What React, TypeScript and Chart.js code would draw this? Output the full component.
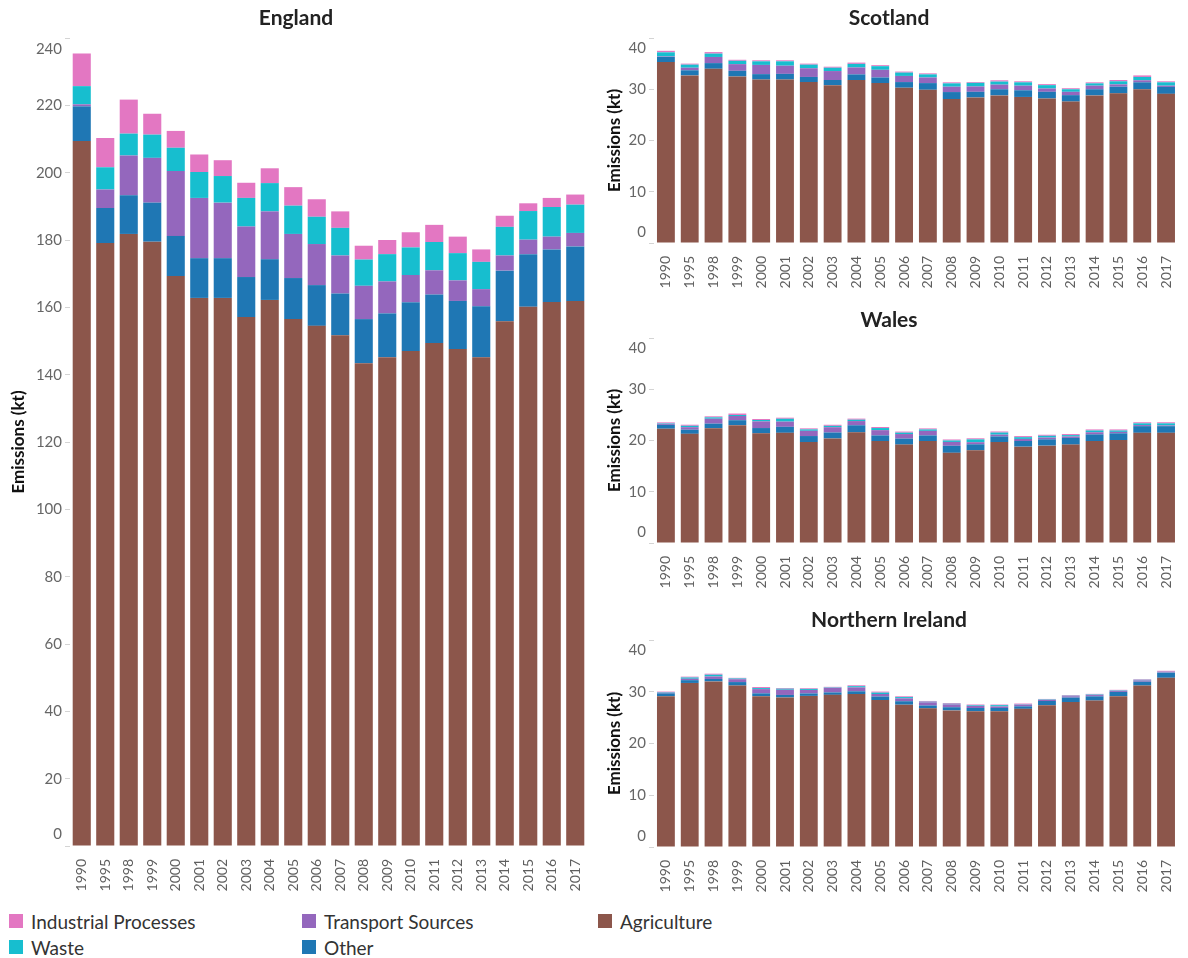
import React, { useEffect, useRef } from "react";
import { Chart, registerables } from "chart.js";

Chart.register(...registerables);

const FONT = "Lato, 'Open Sans', sans-serif";

const years = ["1990", "1995", "1998", "1999", "2000", "2001", "2002", "2003", "2004", "2005", "2006", "2007", "2008", "2009", "2010", "2011", "2012", "2013", "2014", "2015", "2016", "2017"];

const seriesNames = ["Agriculture", "Other", "Transport Sources", "Waste", "Industrial Processes"];
const seriesColors = ["#8c564b", "#1f77b4", "#9467bd", "#17becf", "#e377c2"];

// England
const englandAgriculture = [209.4, 179.1, 181.8, 179.5, 169.3, 162.8, 162.8, 157.1, 162.2, 156.5, 154.5, 151.7, 143.4, 145.2, 147.0, 149.4, 147.6, 145.2, 155.9, 160.2, 161.6, 161.9];
const englandOther = [10.3, 10.4, 11.5, 11.6, 11.9, 11.8, 11.8, 11.9, 12.1, 12.2, 12.1, 12.4, 13.1, 13.0, 14.5, 14.4, 14.3, 15.1, 15.0, 15.6, 15.6, 16.2];
const englandTransport = [0.6, 5.5, 11.8, 13.3, 19.3, 17.9, 16.5, 15.0, 14.2, 13.1, 12.2, 11.3, 9.9, 9.5, 8.1, 7.2, 6.1, 5.1, 4.5, 4.3, 3.8, 4.0];
const englandWaste = [5.4, 6.6, 6.5, 6.9, 6.9, 7.7, 7.9, 8.5, 8.4, 8.4, 8.1, 8.2, 7.8, 8.1, 8.2, 8.4, 8.1, 8.1, 8.5, 8.5, 8.8, 8.4];
const englandIndustrial = [9.7, 8.7, 10.1, 6.2, 5.0, 5.2, 4.7, 4.5, 4.4, 5.5, 5.2, 4.9, 4.1, 4.2, 4.5, 5.1, 4.9, 3.7, 3.3, 2.3, 2.7, 3.0];

// Scotland
const scotlandAgriculture = [35.3, 32.7, 34.0, 32.5, 31.9, 31.9, 31.4, 30.8, 31.8, 31.2, 30.3, 29.9, 28.1, 28.4, 28.8, 28.5, 28.2, 27.6, 28.8, 29.2, 30.0, 29.1];
const scotlandOther = [1.0, 1.0, 1.1, 1.1, 1.05, 1.1, 1.0, 1.0, 1.1, 1.1, 1.1, 1.3, 1.35, 1.1, 1.2, 1.3, 1.3, 1.25, 1.2, 1.3, 1.35, 1.35];
const scotlandTransport = [0.1, 0.5, 1.2, 1.3, 1.8, 1.6, 1.7, 1.75, 1.35, 1.5, 1.2, 1.1, 1.05, 1.05, 0.9, 0.9, 0.65, 0.65, 0.7, 0.45, 0.4, 0.25];
const scotlandWaste = [0.8, 0.6, 0.65, 0.65, 0.7, 0.85, 0.7, 0.65, 0.7, 0.7, 0.65, 0.6, 0.65, 0.7, 0.6, 0.65, 0.65, 0.5, 0.45, 0.6, 0.65, 0.65];
const scotlandIndustrial = [0.3, 0.2, 0.3, 0.2, 0.2, 0.2, 0.2, 0.2, 0.25, 0.2, 0.2, 0.2, 0.2, 0.15, 0.25, 0.2, 0.2, 0.2, 0.2, 0.25, 0.3, 0.2];

// Wales
const walesAgriculture = [22.3, 21.3, 22.4, 23.0, 21.4, 21.5, 19.7, 20.4, 21.6, 19.9, 19.2, 19.9, 17.6, 18.1, 19.7, 18.8, 19.0, 19.2, 19.9, 20.1, 21.5, 21.5];
const walesOther = [0.76, 0.82, 0.89, 0.96, 1.03, 1.17, 1.17, 1.16, 1.37, 1.09, 1.17, 1.09, 1.37, 1.16, 1.1, 1.1, 1.23, 1.3, 1.3, 1.3, 1.3, 1.3];
const walesTransport = [0.2, 0.48, 0.96, 0.82, 1.3, 1.02, 1.02, 1.03, 0.82, 1.03, 0.89, 0.89, 0.75, 0.41, 0.34, 0.41, 0.34, 0.28, 0.41, 0.28, 0.21, 0.14];
const walesWaste = [0.1, 0.27, 0.27, 0.2, 0.27, 0.55, 0.28, 0.27, 0.27, 0.41, 0.27, 0.28, 0.28, 0.55, 0.41, 0.34, 0.35, 0.27, 0.34, 0.27, 0.34, 0.41];
const walesIndustrial = [0.18, 0.21, 0.2, 0.28, 0.2, 0.21, 0.2, 0.21, 0.21, 0.21, 0.21, 0.2, 0.2, 0.21, 0.21, 0.21, 0.2, 0.21, 0.21, 0.21, 0.21, 0.21];

// Northern Ireland
const niAgriculture = [29.15, 31.7, 32.0, 31.2, 29.15, 28.9, 29.2, 29.4, 29.55, 28.4, 27.5, 26.8, 26.4, 26.25, 26.25, 26.7, 27.4, 28.0, 28.3, 29.15, 31.2, 32.7];
const niOther = [0.54, 0.54, 0.47, 0.67, 0.54, 0.48, 0.47, 0.47, 0.54, 0.68, 0.67, 0.54, 0.61, 0.61, 0.61, 0.48, 0.81, 0.88, 0.81, 0.82, 0.74, 0.95];
const niTransport = [0.14, 0.27, 0.48, 0.55, 0.82, 1.01, 0.68, 0.88, 0.75, 0.48, 0.55, 0.61, 0.55, 0.4, 0.3, 0.34, 0.2, 0.25, 0.25, 0.2, 0.25, 0.1];
const niWaste = [0.1, 0.25, 0.34, 0.15, 0.2, 0.2, 0.2, 0.08, 0.24, 0.27, 0.25, 0.12, 0.12, 0.13, 0.25, 0.06, 0.08, 0.1, 0.1, 0.08, 0.12, 0.1];
const niIndustrial = [0.1, 0.16, 0.2, 0.12, 0.2, 0.14, 0.14, 0.12, 0.17, 0.2, 0.15, 0.15, 0.15, 0.15, 0.12, 0.14, 0.12, 0.13, 0.13, 0.12, 0.11, 0.2];

const yTicksEngland = { max: 240, step: 20 };
const yTicksSmall = { max: 40, step: 10 };

type PanelProps = {
  title: string;
  series: number[][];
  left: number;
  top: number;
  width: number;
  height: number;
  padTop: number;
  padRight: number;
  yWidth: number;
  xHeight: number;
  yMax: number;
  yStep: number;
  barPct: number;
  titleX: number;
  titleY: number;
  axisTitleX: number;
  topShift: number;
  bottomShift: number;
};

const decorPlugin = {
  id: "decor",
  afterDraw(chart: any, _args: any, opts: any) {
    const { ctx, chartArea } = chart;
    const y = chart.scales.y;
    ctx.save();
    ctx.textBaseline = "middle";
    // title
    ctx.font = `bold 21px ${FONT}`;
    ctx.fillStyle = "#222";
    ctx.textAlign = "center";
    ctx.fillText(opts.title, opts.titleX, opts.titleY);
    // y tick labels
    ctx.font = `15px ${FONT}`;
    ctx.fillStyle = "#666";
    ctx.textAlign = "right";
    y.ticks.forEach((t: any) => {
      let py = y.getPixelForValue(t.value);
      if (t.value === y.max) py += opts.topShift;
      if (t.value === y.min) py -= opts.bottomShift;
      ctx.fillText(String(t.value), chartArea.left - 8, py);
    });
    // axis title
    ctx.translate(opts.axisTitleX, (chartArea.top + chartArea.bottom) / 2);
    ctx.rotate(-Math.PI / 2);
    ctx.textAlign = "center";
    ctx.font = `bold 17px ${FONT}`;
    ctx.fillStyle = "#111";
    ctx.fillText("Emissions (kt)", 0, 0);
    ctx.restore();
  },
};

function Panel(p: PanelProps) {
  const ref = useRef<HTMLCanvasElement | null>(null);
  useEffect(() => {
    if (!ref.current) return;
    const chart = new Chart(ref.current, {
      type: "bar",
      data: {
        labels: years,
        datasets: p.series.map((d, i) => ({
          label: seriesNames[i],
          data: d,
          backgroundColor: seriesColors[i],
          borderWidth: 0,
          categoryPercentage: 1,
          barPercentage: p.barPct,
        })),
      },
      options: {
        responsive: false,
        animation: false,
        layout: { padding: { top: p.padTop, right: p.padRight, left: 0, bottom: 0 } },
        plugins: {
          legend: { display: false },
          tooltip: { enabled: false },
          title: { display: false },
          decor: {
            title: p.title,
            titleX: p.titleX,
            titleY: p.titleY,
            axisTitleX: p.axisTitleX,
            topShift: p.topShift,
            bottomShift: p.bottomShift,
          },
        } as any,
        scales: {
          x: {
            stacked: true,
            grid: { display: false },
            border: { display: false },
            ticks: {
              autoSkip: false,
              minRotation: 90,
              maxRotation: 90,
              padding: 5,
              color: "#5f5f5f",
              font: { family: FONT, size: 14 },
            },
            afterFit: (s: any) => {
              s.height = p.xHeight;
            },
          },
          y: {
            stacked: true,
            min: 0,
            max: p.yMax,
            ticks: { stepSize: p.yStep, display: false },
            grid: { drawOnChartArea: false, drawTicks: true, tickLength: 5, color: "#d4d4d4" },
            border: { display: false },
            afterFit: (s: any) => {
              s.width = p.yWidth;
            },
          },
        },
      },
      plugins: [decorPlugin],
    });
    return () => chart.destroy();
  }, []);
  return (
    <div style={{ position: "absolute", left: p.left, top: p.top, width: p.width, height: p.height }}>
      <canvas ref={ref} width={p.width} height={p.height} style={{ display: "block" }} />
    </div>
  );
}

const legendItems = [
  { name: "Industrial Processes", color: "#e377c2", x: 9, y: 913 },
  { name: "Waste", color: "#17becf", x: 9, y: 939 },
  { name: "Transport Sources", color: "#9467bd", x: 302, y: 913 },
  { name: "Other", color: "#1f77b4", x: 302, y: 939 },
  { name: "Agriculture", color: "#8c564b", x: 598, y: 913 },
];

export default function App() {
  return (
    <div style={{ position: "absolute", left: 0, top: 0, width: 1188, height: 958, background: "#fff", overflow: "hidden" }}>
      <Panel
        title="England"
        series={[englandAgriculture, englandOther, englandTransport, englandWaste, englandIndustrial]}
        left={0} top={0} width={600} height={900}
        padTop={38} padRight={13} yWidth={70} xHeight={54}
        yMax={yTicksEngland.max} yStep={yTicksEngland.step} barPct={0.77}
        titleX={296} titleY={18} axisTitleX={19} topShift={11} bottomShift={12}
      />
      <Panel
        title="Scotland"
        series={[scotlandAgriculture, scotlandOther, scotlandTransport, scotlandWaste, scotlandIndustrial]}
        left={590} top={0} width={598} height={300}
        padTop={38} padRight={7} yWidth={64} xHeight={57}
        yMax={yTicksSmall.max} yStep={yTicksSmall.step} barPct={0.75}
        titleX={299} titleY={18} axisTitleX={25} topShift={10} bottomShift={11}
      />
      <Panel
        title="Wales"
        series={[walesAgriculture, walesOther, walesTransport, walesWaste, walesIndustrial]}
        left={590} top={300} width={598} height={300}
        padTop={38} padRight={7} yWidth={64} xHeight={57}
        yMax={yTicksSmall.max} yStep={yTicksSmall.step} barPct={0.75}
        titleX={299} titleY={20} axisTitleX={25} topShift={10} bottomShift={11}
      />
      <Panel
        title="Northern Ireland"
        series={[niAgriculture, niOther, niTransport, niWaste, niIndustrial]}
        left={590} top={600} width={598} height={300}
        padTop={40} padRight={7} yWidth={64} xHeight={53}
        yMax={yTicksSmall.max} yStep={yTicksSmall.step} barPct={0.75}
        titleX={299} titleY={20} axisTitleX={25} topShift={10} bottomShift={11}
      />
      {legendItems.map((it) => (
        <div
          key={it.name}
          style={{ position: "absolute", left: it.x, top: it.y, height: 16, display: "flex", alignItems: "center", fontFamily: FONT, fontSize: 19, color: "#333", whiteSpace: "nowrap" }}
        >
          <span style={{ display: "inline-block", width: 14, height: 14, background: it.color, marginRight: 8, flex: "none" }} />
          <span>{it.name}</span>
        </div>
      ))}
    </div>
  );
}
